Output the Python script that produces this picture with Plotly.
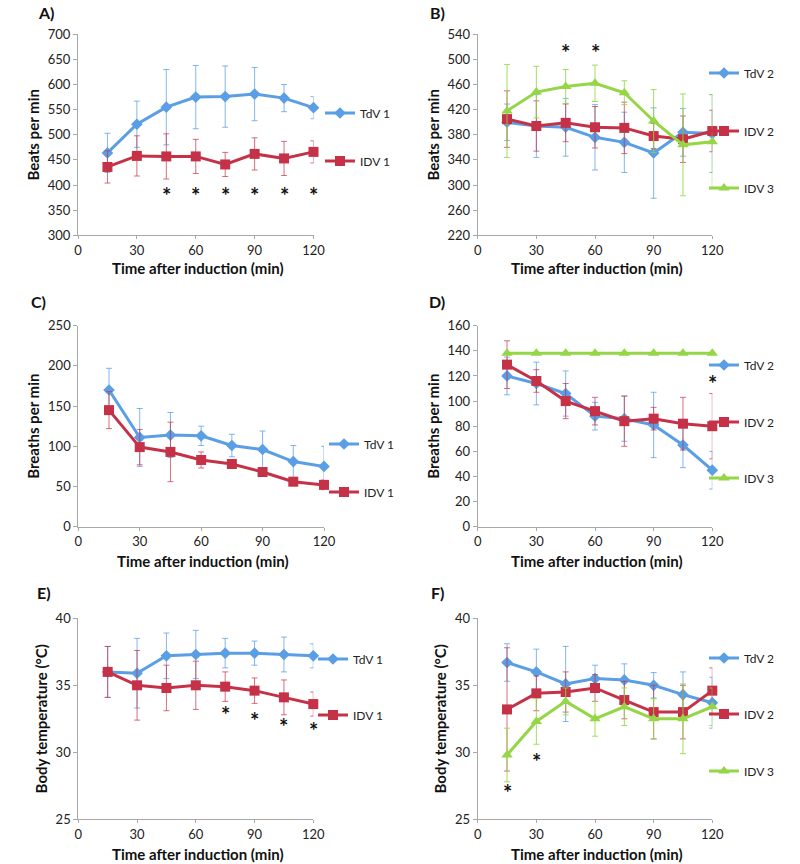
import plotly.graph_objects as go

# ---------------- data ----------------
time_min = [15, 30, 45, 60, 75, 90, 105, 120]
x_ticks = [0, 30, 60, 90, 120]

# A) heart rate, group 1
hr_tdv1 = [464, 521, 555, 575, 576, 581, 573, 554]
hr_tdv1_err = [39, 46, 75, 63, 61, 53, 27, 22]
hr_idv1 = [436, 458, 457, 457, 441, 462, 453, 466]
hr_idv1_err = [32, 40, 45, 34, 24, 32, 34, 22]
stars_a_x = [45, 60, 75, 90, 105, 120]
stars_a_y = [380, 380, 380, 380, 380, 380]

# B) heart rate, group 2
hr_tdv2 = [400, 394, 392, 376, 368, 351, 384, 382]
hr_tdv2_err = [29, 50, 46, 52, 48, 72, 38, 62]
hr_idv2 = [405, 394, 399, 392, 391, 378, 373, 386]
hr_idv2_err = [45, 40, 30, 33, 41, 20, 37, 33]
hr_idv3 = [418, 448, 457, 462, 447, 402, 364, 369]
hr_idv3_err = [74, 41, 27, 29, 19, 50, 81, 75]
stars_b_x = [45, 60]
stars_b_y = [511, 511]

# C) respiratory rate, group 1
rr_tdv1 = [170, 111, 114, 113, 101, 96, 81, 75]
rr_tdv1_err = [27, 36, 28, 12, 14, 23, 20, 25]
rr_idv1 = [145, 99, 93, 83, 78, 68, 56, 52]
rr_idv1_err = [23, 22, 37, 10, 4, 5, 5, 6]
stars_c_x = []
stars_c_y = []

# D) respiratory rate, group 2
rr_tdv2 = [120, 114, 106, 88, 86, 81, 65, 45]
rr_tdv2_err = [15, 17, 18, 11, 18, 26, 18, 15]
rr_idv2 = [129, 116, 100, 92, 84, 86, 82, 80]
rr_idv2_err = [19, 9, 14, 11, 20, 9, 21, 26]
rr_idv3 = [138, 138, 138, 138, 138, 138, 138, 138]
rr_idv3_err = None
stars_d_x = [120]
stars_d_y = [114]

# E) body temperature, group 1
bt_tdv1 = [36.0, 35.9, 37.2, 37.3, 37.4, 37.4, 37.3, 37.2]
bt_tdv1_err = [1.9, 2.6, 1.7, 1.8, 1.1, 0.9, 1.3, 0.9]
bt_idv1 = [36.0, 35.0, 34.8, 35.0, 34.9, 34.6, 34.1, 33.6]
bt_idv1_err = [1.9, 2.6, 1.7, 1.8, 1.1, 0.95, 1.3, 0.9]
stars_e_x = [75, 90, 105, 120]
stars_e_y = [32.8, 32.4, 31.9, 31.6]

# F) body temperature, group 2
bt_tdv2 = [36.7, 36.0, 35.1, 35.5, 35.4, 35.0, 34.3, 33.7]
bt_tdv2_err = [1.4, 1.7, 2.8, 1.0, 1.2, 0.95, 1.7, 1.9]
bt_idv2 = [33.2, 34.4, 34.5, 34.8, 33.9, 33.0, 33.0, 34.6]
bt_idv2_err = [4.6, 1.3, 1.5, 1.0, 1.4, 2.0, 2.0, 1.7]
bt_idv3 = [29.8, 32.3, 33.8, 32.5, 33.4, 32.5, 32.5, 33.4]
bt_idv3_err = [2.0, 1.7, 1.0, 1.3, 1.4, 1.5, 2.6, 1.4]
stars_f_x = [15, 30]
stars_f_y = [27.0, 29.35]

X_TITLE = "Time after induction (min)"

# ---------------- styling ----------------
W, H = 800, 864
FONT = "Lato"
BLUE = "#5A9EE6"
RED = "#C53248"
GREEN = "#94D646"
BLUE_ERR = "rgba(90,158,230,0.75)"
RED_ERR = "rgba(197,50,72,0.7)"
GREEN_ERR = "rgba(148,214,70,0.85)"
AXIS_COL = "#A8A8A8"

STYLE = {
    "TdV": dict(color=BLUE, err=BLUE_ERR, symbol="diamond", size=9),
    "IDV2": dict(color=RED, err=RED_ERR, symbol="square", size=10),
    "IDV3": dict(color=GREEN, err=GREEN_ERR, symbol="triangle-up", size=10),
}


def px_x(v):
    return v / W


def px_y(v):
    return 1 - v / H


# panel pixel boxes: (x0, x1, y_top, y_bottom); xt_y = x-title centre
panels = [
    dict(label="A)", box=(78, 313.5, 34.3, 235.3), yr=[300, 700], dt=50, ytitle="Beats per min",
         label_xy=(46, 13), xt_y=268,
         series=[("TdV 1", hr_tdv1, hr_tdv1_err, "TdV", 113),
                 ("IDV 1", hr_idv1, hr_idv1_err, "IDV2", 161)],
         stars=(stars_a_x, stars_a_y), leg_x=362),
    dict(label="B)", box=(477.7, 712.3, 34.3, 235.3), yr=[220, 540], dt=40, ytitle="Beats per min",
         label_xy=(437, 13), xt_y=268,
         series=[("TdV 2", hr_tdv2, hr_tdv2_err, "TdV", 73),
                 ("IDV 2", hr_idv2, hr_idv2_err, "IDV2", 131),
                 ("IDV 3", hr_idv3, hr_idv3_err, "IDV3", 188)],
         stars=(stars_b_x, stars_b_y), leg_x=746),
    dict(label="C)", box=(78.3, 324, 325.7, 526.7), yr=[0, 250], dt=50, ytitle="Breaths per min",
         label_xy=(38, 301), xt_y=561,
         series=[("TdV 1", rr_tdv1, rr_tdv1_err, "TdV", 444),
                 ("IDV 1", rr_idv1, rr_idv1_err, "IDV2", 492)],
         stars=(stars_c_x, stars_c_y), leg_x=366),
    dict(label="D)", box=(477.7, 712.3, 325.7, 526.7), yr=[0, 160], dt=20, ytitle="Breaths per min",
         label_xy=(437, 301), xt_y=561,
         series=[("TdV 2", rr_tdv2, rr_tdv2_err, "TdV", 365),
                 ("IDV 2", rr_idv2, rr_idv2_err, "IDV2", 422),
                 ("IDV 3", rr_idv3, rr_idv3_err, "IDV3", 478)],
         stars=(stars_d_x, stars_d_y), leg_x=746),
    dict(label="E)", box=(78.3, 313.3, 618.3, 819.3), yr=[25, 40], dt=5, ytitle="Body temperature (°C)",
         label_xy=(44, 592), xt_y=854,
         series=[("TdV 1", bt_tdv1, bt_tdv1_err, "TdV", 659),
                 ("IDV 1", bt_idv1, bt_idv1_err, "IDV2", 715)],
         stars=(stars_e_x, stars_e_y), leg_x=355),
    dict(label="F)", box=(477.7, 712.3, 618.3, 819.3), yr=[25, 40], dt=5, ytitle="Body temperature (°C)",
         label_xy=(437, 592), xt_y=854,
         series=[("TdV 2", bt_tdv2, bt_tdv2_err, "TdV", 658),
                 ("IDV 2", bt_idv2, bt_idv2_err, "IDV2", 714),
                 ("IDV 3", bt_idv3, bt_idv3_err, "IDV3", 771)],
         stars=(stars_f_x, stars_f_y), leg_x=746),
]

fig = go.Figure()
layout = dict(
    width=W, height=H, template="none",
    margin=dict(l=0, r=0, t=0, b=0),
    paper_bgcolor="white", plot_bgcolor="white",
    showlegend=True,
    font=dict(family=FONT, color="#222222"),
)
annotations = []
leg_count = 0

for i, p in enumerate(panels):
    n = "" if i == 0 else str(i + 1)
    x0, x1, yt, yb = p["box"]
    layout["xaxis" + n] = dict(
        domain=[px_x(x0), px_x(x1)], anchor="y" + n, range=[0, 120],
        tickmode="array", tickvals=x_ticks,
        showline=True, linecolor=AXIS_COL, linewidth=1,
        ticks="outside", ticklen=3, tickcolor=AXIS_COL,
        showgrid=False, zeroline=False, automargin=False,
        tickfont=dict(size=13, color="#222222", family=FONT),
    )
    layout["yaxis" + n] = dict(
        domain=[px_y(yb), px_y(yt)], anchor="x" + n, range=p["yr"],
        dtick=p["dt"], tick0=p["yr"][0],
        showline=True, linecolor=AXIS_COL, linewidth=1,
        ticks="outside", ticklen=4, tickcolor=AXIS_COL,
        showgrid=False, zeroline=False, automargin=False,
        tickfont=dict(size=13, color="#222222", family=FONT),
        title=dict(text=p["ytitle"], standoff=4,
                   font=dict(size=15, color="#111111", family=FONT, weight="bold")),
    )
    for name, ys, errs, key, ly in p["series"]:
        st = STYLE[key]
        leg_count += 1
        lid = "legend" if leg_count == 1 else "legend%d" % leg_count
        tr = go.Scatter(
            x=time_min, y=ys, name=name, mode="lines+markers",
            xaxis="x" + n, yaxis="y" + n, legend=lid, cliponaxis=False,
            line=dict(color=st["color"], width=3),
            marker=dict(color=st["color"], symbol=st["symbol"], size=st["size"]),
        )
        if errs is not None:
            tr.error_y = dict(type="data", array=errs, visible=True,
                              color=st["err"], thickness=1, width=3)
        fig.add_trace(tr)
        layout[lid] = dict(
            x=px_x(p["leg_x"] - 42), y=px_y(ly), xanchor="left", yanchor="middle",
            bgcolor="rgba(0,0,0,0)", borderwidth=0,
            font=dict(size=12, color="#222222", family=FONT),
        )
    sx, sy = p["stars"]
    for a, b in zip(sx, sy):
        annotations.append(dict(x=a, y=b, xref="x" + n, yref="y" + n, text="*",
                                showarrow=False, font=dict(size=22, color="#111111", family=FONT,
                                                           weight="bold")))
    # x-axis title
    annotations.append(dict(x=px_x((x0 + x1) / 2 + 2), y=px_y(p["xt_y"]), xref="paper", yref="paper",
                            text=X_TITLE, showarrow=False, xanchor="center", yanchor="middle",
                            font=dict(size=15, color="#111111", family=FONT, weight="bold")))
    lx, lyy = p["label_xy"]
    annotations.append(dict(x=px_x(lx), y=px_y(lyy), xref="paper", yref="paper",
                            text=p["label"], showarrow=False, xanchor="center", yanchor="middle",
                            font=dict(size=16, color="#111111", family=FONT, weight="bold")))

layout["annotations"] = annotations
fig.update_layout(**layout)
# remove the browser's default 8px page margin so the 800x864 figure fills the window
fig.write_html("out.html", config={"displayModeBar": False},
               post_script="document.body.style.margin='0';document.body.style.overflow='hidden';")
